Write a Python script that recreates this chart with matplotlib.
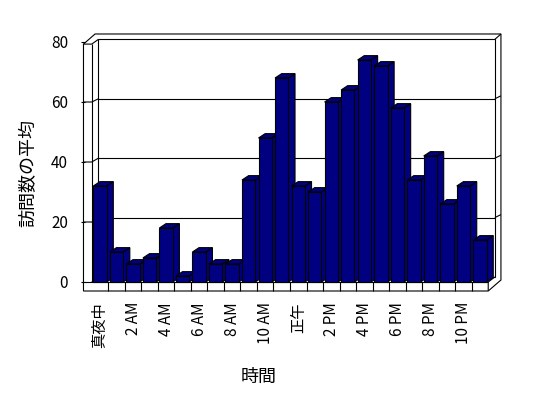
import matplotlib
matplotlib.use('Agg')
import matplotlib.pyplot as plt
from matplotlib.patches import Polygon
import numpy as np

plt.rcParams['font.family'] = ['Noto Sans CJK JP', 'DejaVu Sans']

# ── データ ─────────────────────────────────────────────
hours = np.arange(24)
visits = [32, 10, 6, 8, 18, 2, 10, 6, 6, 34, 48, 68,
          32, 30, 60, 64, 74, 72, 58, 34, 42, 26, 32, 14]
tick_pos = np.arange(0, 24, 2)
tick_labels = ['真夜中', '2 AM', '4 AM', '6 AM', '8 AM', '10 AM',
               '正午', '2 PM', '4 PM', '6 PM', '8 PM', '10 PM']
y_ticks = [0, 20, 40, 60, 80]
grid_vals = [20, 40, 60]

# ── レイアウト (pixel) ──────────────────────────────────
W_PX, H_PX = 548, 398
PX_CAT = 16.52   # 1時間あたりの px
PX_VAL = 3.0     # 訪問数 1 あたりの px
X0_PX = 100      # 最初の棒の中心
Y0_PX = 282      # 前面の 0
XLIM = (-1.0, 24.27)
YLIM = (-3.0, 82.67)

NAVY = '#000080'
LW = 0.8

# 奥行き
DX, DV = 0.4, 1.667      # 壁
BAR_DX, BAR_DV = 0.4, 1.45
BAR_W = 0.81


def back(v):
    return DV + 0.99 * v


fig = plt.figure(figsize=(W_PX / 100, H_PX / 100), dpi=100)
left = X0_PX + XLIM[0] * PX_CAT
right = X0_PX + XLIM[1] * PX_CAT
top = Y0_PX - YLIM[1] * PX_VAL
bottom = Y0_PX - YLIM[0] * PX_VAL
ax = fig.add_axes([left / W_PX, 1 - bottom / H_PX,
                   (right - left) / W_PX, (bottom - top) / H_PX])
ax.set_xlim(XLIM)
ax.set_ylim(YLIM)
for s in ax.spines.values():
    s.set_visible(False)

x_out_l, x_in_l = XLIM[0], -0.5
x_in_r, x_out_r = 23.5, XLIM[1]
v_bot = YLIM[0]
wall_top = 79.3
slab_top = YLIM[1]


def line(xs, ys, z=1):
    ax.plot(xs, ys, color='black', lw=LW, zorder=z, clip_on=False,
            solid_capstyle='butt')


# 外枠
outer = Polygon([(x_out_l, v_bot), (x_out_l, wall_top), (x_out_l + 0.7, slab_top),
                 (x_out_r, slab_top), (x_out_r, DV - 1.0), (x_in_r, v_bot)],
                closed=True, facecolor='white', edgecolor='black', lw=LW,
                zorder=0, clip_on=False)
ax.add_patch(outer)

# 奥の壁
wall = Polygon([(x_in_l + DX, DV), (x_in_r + DX, DV),
                (x_in_r + DX, back(80)), (x_in_l + DX, back(80))],
               closed=True, facecolor='white', edgecolor='black', lw=LW,
               zorder=0.5, clip_on=False)
ax.add_patch(wall)

line([x_in_l, x_in_l], [0, wall_top])
line([x_out_l, x_in_l, x_in_l + DX], [wall_top, wall_top, back(80)])
line([x_in_r + DX, x_out_r], [back(80), slab_top])
line([x_out_l, x_in_r], [0, 0])
line([x_in_l, x_in_l + DX], [0, DV])
line([x_in_r, x_in_r, x_in_r + DX], [v_bot, 0, DV])

# 目盛線
for v in grid_vals:
    line([x_in_l + DX, x_in_r + DX], [back(v), back(v)])
    line([x_out_l, x_in_l, x_in_l + DX], [v, v, back(v)])
    line([x_in_r + DX, x_out_r], [back(v), back(v) + 1.0])

# 床の区切り
for b in np.arange(0.5, 23, 1.0):
    line([b, b], [v_bot, 0])

# ── 棒 (3D風) ───────────────────────────────────────────
bars = ax.bar(hours, visits, width=BAR_W, color=NAVY, edgecolor='black',
              lw=LW)
for i, (h, v) in enumerate(zip(hours, visits)):
    xl, xr = h - BAR_W / 2, h + BAR_W / 2
    side = Polygon([(xr, 0), (xr + BAR_DX, BAR_DV), (xr + BAR_DX, v + BAR_DV), (xr, v)],
                   closed=True, facecolor=NAVY, edgecolor='black', lw=LW,
                   zorder=3 + i, clip_on=False)
    topf = Polygon([(xl, v), (xr, v), (xr + BAR_DX, v + BAR_DV), (xl + BAR_DX, v + BAR_DV)],
                   closed=True, facecolor=NAVY, edgecolor='black', lw=LW,
                   zorder=3 + i, clip_on=False)
    ax.add_patch(side)
    ax.add_patch(topf)
    bars[i].set_zorder(3 + i + 0.5)

# ── 軸 ─────────────────────────────────────────────────
ax.set_yticks(y_ticks)
ax.set_yticklabels([str(t) for t in y_ticks])
ax.tick_params(axis='y', direction='inout', length=3, width=LW, pad=9.5,
               labelsize=11)
ax.set_xticks(tick_pos)
ax.set_xticklabels(tick_labels, rotation=90)
ax.tick_params(axis='x', length=0, pad=8, labelsize=11)

fig.text(28 / W_PX, 1 - 173 / H_PX, '訪問数の平均', rotation=90,
         ha='center', va='center', fontsize=13)
fig.text(259 / W_PX, 1 - 377 / H_PX, '時間', ha='center', va='center',
         fontsize=13)

fig.savefig('out.png', dpi=100)
